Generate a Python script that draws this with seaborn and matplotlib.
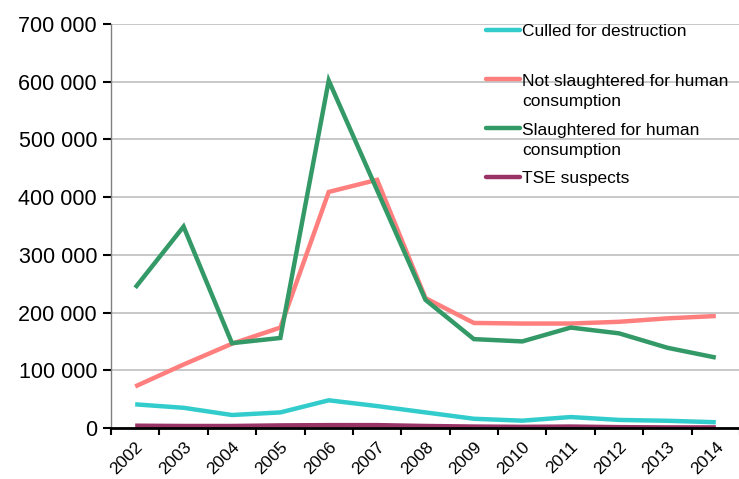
import matplotlib
matplotlib.use("Agg")
import matplotlib.pyplot as plt
from matplotlib.lines import Line2D
from matplotlib.ticker import FuncFormatter, FixedLocator
import seaborn as sns
import pandas as pd

years = ["2002", "2003", "2004", "2005", "2006", "2007", "2008",
         "2009", "2010", "2011", "2012", "2013", "2014"]
culled = [41000, 35000, 22500, 27000, 48000, 38000, 27000, 16000, 12700, 19000, 14000, 12500, 10000]
not_slaughtered = [72000, 110000, 146000, 174000, 409000, 430000, 225000, 182000, 181000, 181000, 184000, 190000, 194000]
slaughtered = [243000, 349000, 147000, 156000, 602000, 412000, 222000, 154000, 150000, 174000, 164000, 139000, 122000]
tse = [4000, 3500, 3500, 4500, 5000, 5000, 3500, 2500, 2000, 2500, 1500, 1000, 1000]

series_names = ["Culled for destruction", "Not slaughtered for human consumption",
                "Slaughtered for human consumption", "TSE suspects"]
legend_labels = ["Culled for destruction", "Not slaughtered for human\nconsumption",
                 "Slaughtered for human\nconsumption", "TSE suspects"]
colors = ["#33CCCC", "#FF7F7F", "#339966", "#993366"]
values = [culled, not_slaughtered, slaughtered, tse]

rows = []
for name, vals in zip(series_names, values):
    for i, v in enumerate(vals):
        rows.append({"x": i, "value": v, "series": name})
df = pd.DataFrame(rows)

sns.set_style("white")
plt.rcParams["font.family"] = ["Liberation Sans", "DejaVu Sans"]

fig = plt.figure(figsize=(7.39, 4.79), dpi=100)
ax = fig.add_axes([111/739, 1-428/479, 629/739, (428-24)/479])

sns.lineplot(data=df, x="x", y="value", hue="series", hue_order=series_names,
             palette=colors, linewidth=3.2, ax=ax, legend=False, zorder=3)
for ln, z in zip(ax.lines, [3, 3, 4, 2]):
    ln.set_zorder(z)
    ln.set_solid_capstyle("butt")
    ln.set_solid_joinstyle("miter")

ax.set_xlim(-0.5, len(years) - 0.5)
ax.set_ylim(0, 700000)
ax.set_yticks(range(0, 700001, 100000))
ax.yaxis.set_major_formatter(FuncFormatter(lambda v, p: f"{int(v):,}".replace(",", " ")))
ax.grid(axis="y", color="#BFBFBF", linewidth=1.2, zorder=0)
ax.set_axisbelow(True)

ax.set_xticks(range(len(years)))
ax.set_xticklabels(years, rotation=45, ha="right", va="top", rotation_mode="anchor")
ax.xaxis.set_minor_locator(FixedLocator([i - 0.5 for i in range(len(years) + 1)]))
ax.tick_params(axis="x", which="major", length=0, pad=8, labelsize=12.5, labelcolor="black")
ax.tick_params(axis="x", which="minor", length=5, width=1.5, color="black", direction="out", bottom=True)
ax.tick_params(axis="y", length=6, width=1.5, color="black", direction="out", left=True,
               labelsize=15.5, labelcolor="black", pad=4)

ax.set_xlabel("")
ax.set_ylabel("")
for s in ["top", "right"]:
    ax.spines[s].set_visible(False)
ax.spines["left"].set_color("#808080")
ax.spines["left"].set_linewidth(1.0)
ax.spines["bottom"].set_color("black")
ax.spines["bottom"].set_linewidth(2.0)

# legend (manual, handle aligned with the first text line like the reference)
leg_y = [30, 79, 128, 177]
line_gap = 21
for lab, col, y in zip(legend_labels, colors, leg_y):
    yf = 1 - y / 479
    fig.add_artist(Line2D([486/739, 520/739], [yf, yf], color=col, linewidth=3.2,
                          transform=fig.transFigure))
    extra = line_gap * lab.count("\n")
    fig.text(522/739, 1 - (y + 6 + extra) / 479, lab, ha="left", va="baseline",
             fontsize=12.5, color="black", linespacing=1.42)

fig.savefig("out.png", dpi=100)
